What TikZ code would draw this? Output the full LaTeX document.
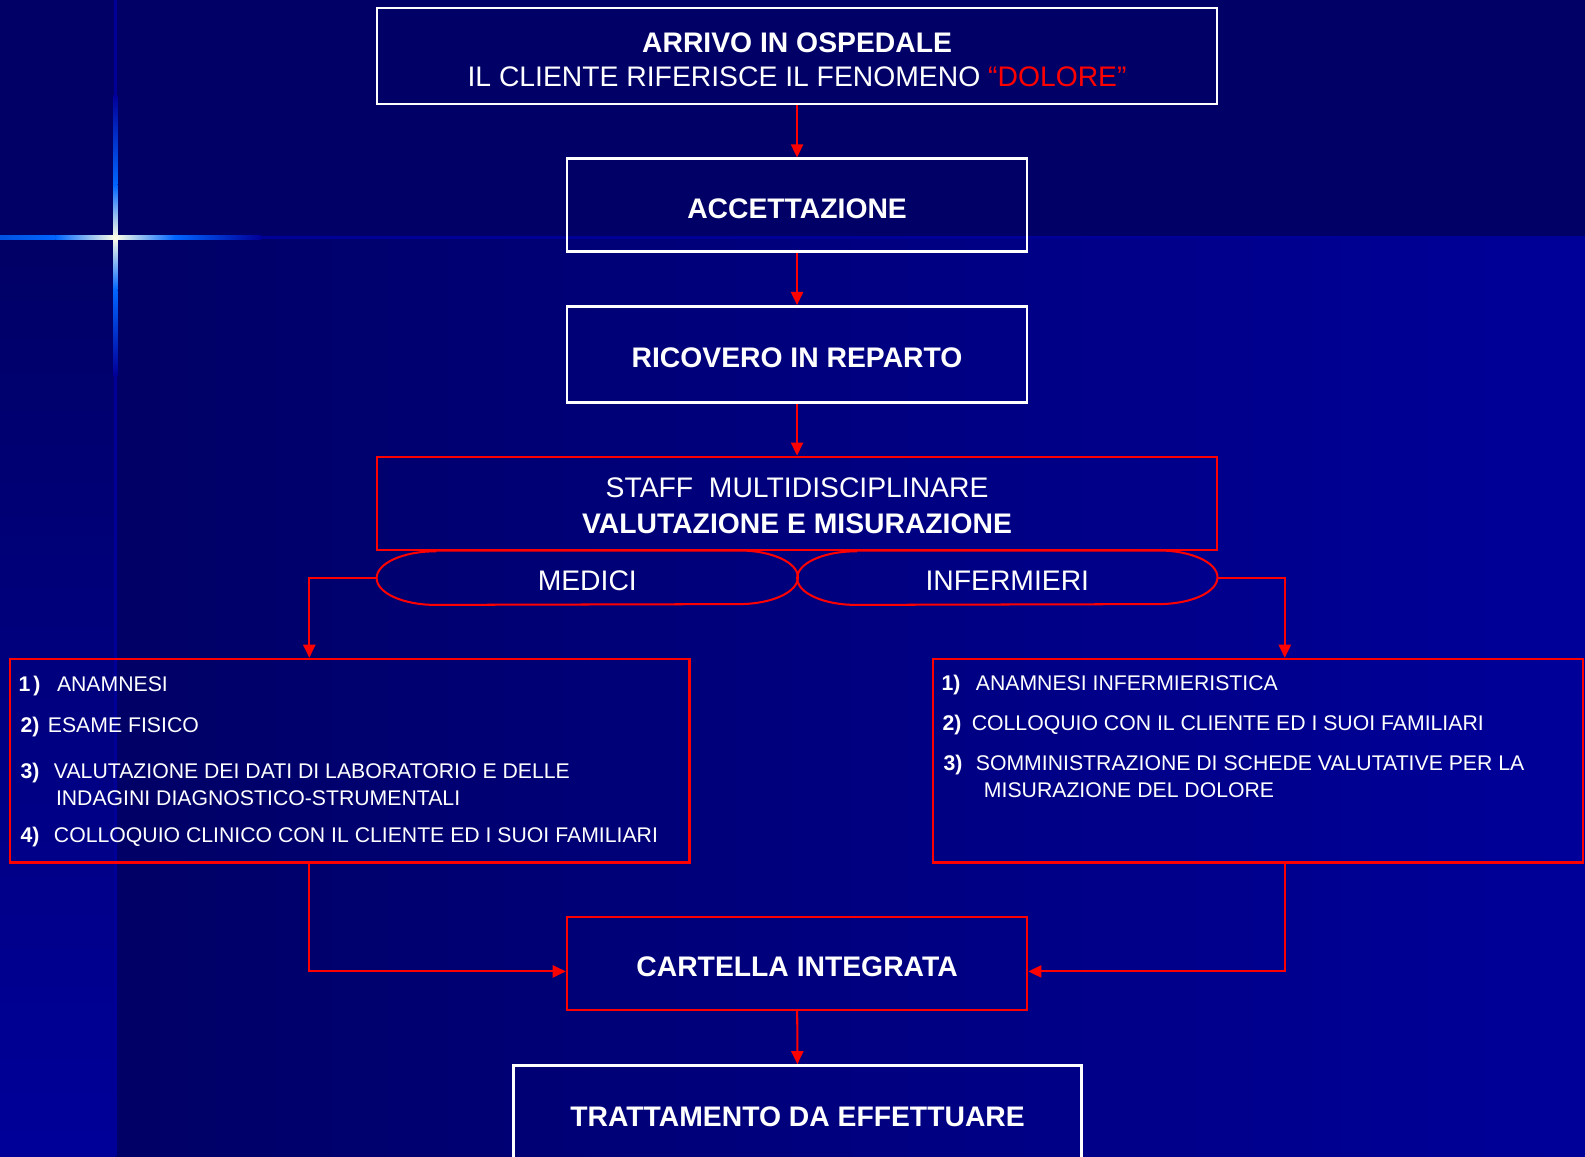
\documentclass[tikz,border=0pt]{standalone}
\usepackage{fontspec}
\setmainfont{Liberation Sans}
\usetikzlibrary{arrows.meta}

\definecolor{bgdark}{HTML}{000066}
\definecolor{bglight}{HTML}{000099}
\definecolor{spark}{HTML}{0066FF}
\definecolor{slidered}{HTML}{FF0000}
\newcommand{\slidefont}{\fontsize{28}{34}\selectfont}
\newcommand{\listfont}{\fontsize{21}{25}\selectfont}

\begin{document}
\begin{tikzpicture}[x=1pt, y=-1pt, thick]

	% Slide background, with the little star on the left.
	\useasboundingbox (0,0) rectangle (1568,1143.6);
	\fill [bgdark] (0,0) rectangle (1568,236);
	\shade [top color=bgdark, bottom color=bglight] (0,236) rectangle (114,1144);
	\shade [left color=bgdark, right color=bglight] (114,236) rectangle (1568,1144);
	\draw [bglight, line width=3pt] (114,0) -- (114,1144);
	\draw [bglight, line width=3pt] (0,235) -- (1568,235);
	\shade [left color=spark!80!bgdark, right color=spark] (0,233) rectangle (55,237);
	\shade [left color=spark, right color=white!90!yellow] (55,233) rectangle (114,237);
	\shade [left color=white!90!yellow, right color=spark] (114,233) rectangle (173,237);
	\shade [left color=spark, right color=bglight] (173,233) rectangle (258,237);
	\shade [top color=bglight, bottom color=spark] (112,94) rectangle (116,183);
	\shade [top color=spark, bottom color=white!90!yellow] (112,183) rectangle (116,235);
	\shade [top color=white!90!yellow, bottom color=spark] (112,235) rectangle (116,287);
	\shade [top color=spark, bottom color=bglight] (112,287) rectangle (116,371);

	\begin{scope}[every node/.style={text=white, inner sep=0pt, font=\slidefont}]
		\tikzstyle{whitebox}=[draw=white, line width=2.5pt, rectangle]
		\tikzstyle{redbox}=[draw=slidered, line width=2.5pt, rectangle]
		\tikzstyle{oneline}=[font=\slidefont\bfseries, text height=25.5pt, text depth=0pt]
		\tikzstyle{pill}=[rectangle, minimum height=53pt, text height=24.5pt, text depth=0pt]
		\tikzstyle{pilledge}=[draw=slidered, line width=2pt]
		\tikzstyle{entry}=[anchor=west, text height=15pt, text depth=0pt, font=\listfont]
		\tikzstyle{link}=[draw=slidered, line width=2pt, -{Triangle[length=13pt,width=12pt]}]

		\node [whitebox, minimum width=831pt, minimum height=95pt, align=center, text height=60.5pt] (arrivo) at (788.5,55.5)
			{\textbf{ARRIVO IN OSPEDALE}\\IL CLIENTE RIFERISCE IL FENOMENO \textcolor{slidered}{“DOLORE”}};
		\node [whitebox, oneline, minimum width=455pt, minimum height=92pt] (accett) at (788.5,203) {ACCETTAZIONE};
		\node [whitebox, oneline, minimum width=455pt, minimum height=95pt] (ricovero) at (788.5,350.5) {RICOVERO IN REPARTO};
		\node [redbox, minimum width=831pt, minimum height=92pt, align=center, text height=59.5pt] (staff) at (788.5,498)
			{STAFF\ \ MULTIDISCIPLINARE\\[1pt]\textbf{VALUTAZIONE E MISURAZIONE}};

		\node [pill, minimum width=416pt] (medici) at (581,571.5) {MEDICI};
		\node [pill, minimum width=415pt] (infermieri) at (996.5,571.5) {INFERMIERI};
		\draw [pilledge] ([xshift=58pt]medici.north west) -- ([xshift=-58pt]medici.north east)
			arc [start angle=-90, end angle=90, x radius=58, y radius=26.5]
			-- ([xshift=58pt]medici.south west)
			arc [start angle=90, end angle=270, x radius=58, y radius=26.5] -- cycle;
		\draw [pilledge] ([xshift=58pt]infermieri.north west) -- ([xshift=-58pt]infermieri.north east)
			arc [start angle=-90, end angle=90, x radius=58, y radius=26.5]
			-- ([xshift=58pt]infermieri.south west)
			arc [start angle=90, end angle=270, x radius=58, y radius=26.5] -- cycle;

		\node [redbox, minimum width=672pt, minimum height=201pt] (medlist) at (346,752.5) {};
		\node [entry] (med1) at (18,677) {\makebox[38pt][l]{\bfseries 1\kern3pt)}ANAMNESI};
		\node [entry] (med2) at (20,717) {\makebox[27pt][l]{\bfseries 2)}ESAME FISICO};
		\node [entry] (med3) at (20,763) {\makebox[33pt][l]{\bfseries 3)}VALUTAZIONE DEI DATI DI LABORATORIO E DELLE};
		\node [entry] (med3b) at (55,789) {INDAGINI DIAGNOSTICO-STRUMENTALI};
		\node [entry] (med4) at (20,826) {\makebox[33pt][l]{\bfseries 4)}COLLOQUIO CLINICO CON IL CLIENTE ED I SUOI FAMILIARI};

		\node [redbox, minimum width=643pt, minimum height=201pt] (inflist) at (1244.5,752.5) {};
		\node [entry] (inf1) at (931,676) {\makebox[34pt][l]{\bfseries 1)}ANAMNESI INFERMIERISTICA};
		\node [entry] (inf2) at (932,715) {\makebox[29pt][l]{\bfseries 2)}COLLOQUIO CON IL CLIENTE ED I SUOI FAMILIARI};
		\node [entry] (inf3) at (933,755) {\makebox[32pt][l]{\bfseries 3)}SOMMINISTRAZIONE DI SCHEDE VALUTATIVE PER LA};
		\node [entry] (inf3b) at (973,781) {MISURAZIONE DEL DOLORE};

		\node [redbox, oneline, minimum width=455pt, minimum height=92pt] (cartella) at (788.5,953) {CARTELLA INTEGRATA};
		\node [whitebox, oneline, text height=19.5pt, minimum width=562pt, minimum height=102pt] (trattamento) at (789,1105) {TRATTAMENTO DA EFFETTUARE};

		\draw [link] (arrivo) -- (accett);
		\draw [link] (accett) -- (ricovero);
		\draw [link] (ricovero) -- (staff);
		\draw [link] (medici.west) -| ([xshift=-40pt]medlist.north);
		\draw [link] (infermieri.east) -| ([xshift=26.5pt]inflist.north);
		\draw [link] ([xshift=-40pt]medlist.south) |- ([yshift=-8pt]cartella.west);
		\draw [link] ([xshift=26.5pt]inflist.south) |- ([yshift=-8pt]cartella.east);
		\draw [link] (cartella) -- (trattamento);
	\end{scope}

\end{tikzpicture}
\end{document}
